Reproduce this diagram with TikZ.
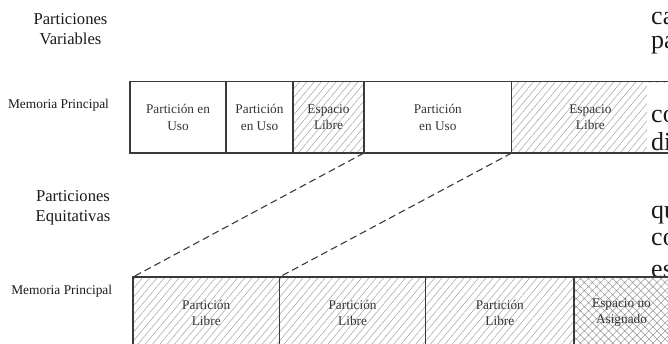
\documentclass[tikz,border=0pt]{standalone}
\usepackage{fontspec}
\setmainfont{Liberation Serif}
\usetikzlibrary{patterns.meta}
\definecolor{edge}{HTML}{3A3A3A}
\definecolor{hatch}{HTML}{A8A8A8}
\definecolor{xhatch}{HTML}{9A9A9A}
\definecolor{boxtext}{HTML}{333333}
\definecolor{bodytext}{HTML}{1A1A1A}
\begin{document}
\begin{tikzpicture}[x=1pt,y=-1pt,
  cell/.style={draw=edge,line width=1.3pt,inner sep=0pt,outer sep=0pt,
    minimum height=71.5pt,align=center,text=boxtext,
    font=\fontsize{13.3}{16.5}\selectfont},
  used/.style={cell},
  free/.style={cell,pattern={Lines[angle=50,distance=5.6pt,line width=0.55pt]},
    pattern color=hatch},
  unassigned/.style={cell,pattern={Hatch[angle=45,distance=5.7pt,line width=0.55pt]},
    pattern color=xhatch},
  heading/.style={anchor=base,text=bodytext,font=\fontsize{16.6}{20}\selectfont},
  rowlabel/.style={anchor=base,text=bodytext,font=\fontsize{13.4}{16}\selectfont},
  bodyline/.style={anchor=base west,inner sep=0pt,text=bodytext,
    font=\fontsize{26}{27}\selectfont},
  mapline/.style={draw=edge,line width=1.1pt,dash pattern=on 7pt off 4pt}]
\useasboundingbox (0,0) rectangle (668,343);
\clip (0,0) rectangle (668,343);

% running text of the page on the right
\node[bodyline] (w1) at (651,24)  {ca};
\node[bodyline] (w2) at (651,48)  {pa};
\node[bodyline] (w5) at (651,218) {qu};
\node[bodyline] (w6) at (651,245) {co};
\node[bodyline] (w7) at (651,277) {es};

% headings and row labels
\node[heading] (hv1) at (70.5,24) {Particiones};
\node[heading] (hv2) at (70.5,44) {Variables};
\node[heading] (he1) at (73,201.5) {Particiones};
\node[heading] (he2) at (73,221) {Equitativas};
\node[rowlabel] (mp1) at (58.5,108.5) {Memoria Principal};
\node[rowlabel] (mp2) at (61.7,294.5) {Memoria Principal};

% variable partitions
\node[used, minimum width=96pt]    (t1) at (178,117.25)   {Partición en\\Uso};
\node[used, minimum width=67pt]    (t2) at (259.5,117.25) {Partición\\en Uso};
\node[free, minimum width=71pt]    (t3) at (328.5,117.25) {Espacio\\Libre};
\node[used, minimum width=147.7pt] (t4) at (437.85,117.25) {Partición\\en Uso};
\node[free, minimum width=157.3pt] (t5) at (590.35,117.25) {Espacio\\Libre};

% column of running text over the last block
\fill[white] (647,82.6) rectangle (668,152.3);
\node[bodyline] (w3) at (651,122) {co};
\node[bodyline] (w4) at (651,150) {di};
\draw[edge,line width=1.3pt] (t5.north west) -- (t5.north east)
  (t5.south west) -- (t5.south east);

% equal partitions
\node[free, minimum width=146.5pt] (b1) at (206.25,312.75) {Partición\\Libre};
\node[free, minimum width=146.2pt] (b2) at (352.6,312.75)  {Partición\\Libre};
\node[free, minimum width=148.3pt] (b3) at (499.85,312.75) {Partición\\Libre};
\node[unassigned, minimum width=95pt] (b4) at (621.5,312.75) {Espacio no\\Asignado};

% mapping between the two layouts
\draw[mapline] (t3.south east) -- (b1.north west);
\draw[mapline] (t4.south east) -- (b1.north east);
\end{tikzpicture}
\end{document}
